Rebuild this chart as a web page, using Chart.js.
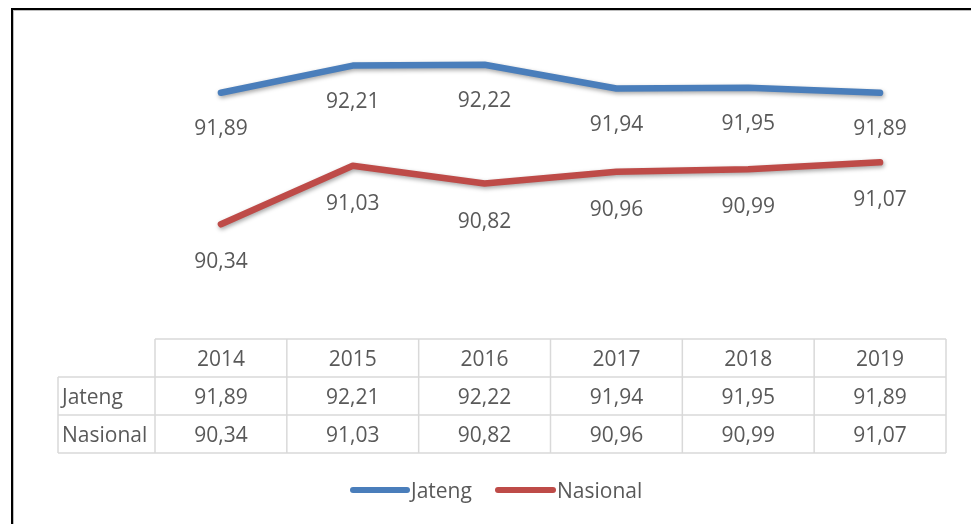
<!DOCTYPE html>
<html>
<head>
<meta charset="utf-8">
<script src="https://cdn.jsdelivr.net/npm/chart.js@4"></script>
<style>
  html, body { margin: 0; padding: 0; width: 971px; height: 524px; overflow: hidden; background: #fff; }
  #frame { position: absolute; left: 11px; top: 8px; width: 1000px; height: 600px;
           border-left: 2px solid #000; border-top: 2px solid #000; box-shadow: inset 1px 1px 0 #bdbdbd; }
  #wrap { position: absolute; left: 0; top: 0; width: 971px; height: 524px; }
</style>
</head>
<body>
<div id="frame"></div>
<div id="wrap"><canvas id="c" width="971" height="524"></canvas></div>
<script>
const years = ['2014', '2015', '2016', '2017', '2018', '2019'];
const jateng = [91.89, 92.21, 92.22, 91.94, 91.95, 91.89];
const nasional = [90.34, 91.03, 90.82, 90.96, 90.99, 91.07];
const seriesNames = ['Jateng', 'Nasional'];
const colors = ['#4A7EBB', '#BE4B48'];

const FONT = '"Open Sans", "Liberation Sans", sans-serif';
const TXT = '#595959';
const fmt = v => v.toFixed(2).replace('.', ',');

const shadowPlugin = {
  id: 'shadow',
  beforeDatasetDraw(chart) {
    const ctx = chart.ctx;
    ctx.save();
    ctx.shadowColor = 'rgba(0,0,0,0.35)';
    ctx.shadowBlur = 4;
    ctx.shadowOffsetX = 1;
    ctx.shadowOffsetY = 2;
  },
  afterDatasetDraw(chart) { chart.ctx.restore(); }
};

const labelOffsets = [36, 38];

const labelPlugin = {
  id: 'labels',
  afterDatasetsDraw(chart) {
    const ctx = chart.ctx;
    ctx.save();
    ctx.font = '21px ' + FONT;
    ctx.fillStyle = TXT;
    ctx.textAlign = 'center';
    ctx.textBaseline = 'middle';
    chart.data.datasets.forEach((ds, di) => {
      const meta = chart.getDatasetMeta(di);
      meta.data.forEach((pt, i) => {
        ctx.fillText(fmt(ds.data[i]), pt.x, pt.y + labelOffsets[di]);
      });
    });
    ctx.restore();
  }
};

const tablePlugin = {
  id: 'table',
  afterDraw(chart) {
    const ctx = chart.ctx;
    const xs = chart.scales.x;
    const area = chart.chartArea;
    const left = area.left, right = area.right;
    const labelLeft = 58;
    const rows = [339, 377, 415, 453];
    const n = years.length;
    const colW = (right - left) / n;
    ctx.save();
    ctx.strokeStyle = '#d9d9d9';
    ctx.lineWidth = 1.5;
    ctx.beginPath();
    ctx.moveTo(left, rows[0]); ctx.lineTo(right, rows[0]);
    for (let r = 1; r < rows.length; r++) {
      ctx.moveTo(labelLeft, rows[r]); ctx.lineTo(right, rows[r]);
    }
    ctx.moveTo(labelLeft, rows[1]); ctx.lineTo(labelLeft, rows[3]);
    for (let i = 0; i <= n; i++) {
      const x = left + i * colW;
      ctx.moveTo(x, rows[0]); ctx.lineTo(x, rows[3]);
    }
    ctx.stroke();

    ctx.font = '21px ' + FONT;
    ctx.fillStyle = TXT;
    ctx.textBaseline = 'middle';
    ctx.textAlign = 'center';
    const dy = 2;
    years.forEach((y, i) => {
      const cx = xs.getPixelForValue(i);
      ctx.fillText(y, cx, (rows[0] + rows[1]) / 2 + dy);
    });
    chart.data.datasets.forEach((ds, di) => {
      const cy = (rows[di + 1] + rows[di + 2]) / 2 + dy;
      ctx.textAlign = 'left';
      ctx.fillText(ds.label, labelLeft + 4, cy);
      ctx.textAlign = 'center';
      ds.data.forEach((v, i) => {
        ctx.fillText(fmt(v), xs.getPixelForValue(i), cy);
      });
    });

    // legend
    const ly = 490;
    const items = [
      { x0: 353, x1: 407, tx: 411 },
      { x0: 498, x1: 553, tx: 557 }
    ];
    chart.data.datasets.forEach((ds, di) => {
      const it = items[di];
      ctx.strokeStyle = ds.borderColor;
      ctx.lineWidth = 6;
      ctx.lineCap = 'round';
      ctx.beginPath();
      ctx.moveTo(it.x0, ly); ctx.lineTo(it.x1, ly);
      ctx.stroke();
      ctx.textAlign = 'left';
      ctx.fillStyle = TXT;
      ctx.fillText(ds.label, it.tx, ly + dy);
    });
    ctx.restore();
  }
};

new Chart(document.getElementById('c'), {
  type: 'line',
  data: {
    labels: years,
    datasets: [
      { label: seriesNames[0], data: jateng, borderColor: colors[0], backgroundColor: colors[0],
        borderWidth: 6.5, pointRadius: 0, borderCapStyle: 'round', borderJoinStyle: 'round', tension: 0 },
      { label: seriesNames[1], data: nasional, borderColor: colors[1], backgroundColor: colors[1],
        borderWidth: 6.5, pointRadius: 0, borderCapStyle: 'round', borderJoinStyle: 'round', tension: 0 }
    ]
  },
  options: {
    responsive: false,
    animation: false,
    devicePixelRatio: 1,
    layout: { padding: { left: 155, right: 25, top: 41, bottom: 186 } },
    plugins: { legend: { display: false }, tooltip: { enabled: false } },
    scales: {
      x: { type: 'category', offset: true, display: false },
      y: { min: 89, max: 92.5, display: false }
    }
  },
  plugins: [shadowPlugin, labelPlugin, tablePlugin]
});
</script>
</body>
</html>
